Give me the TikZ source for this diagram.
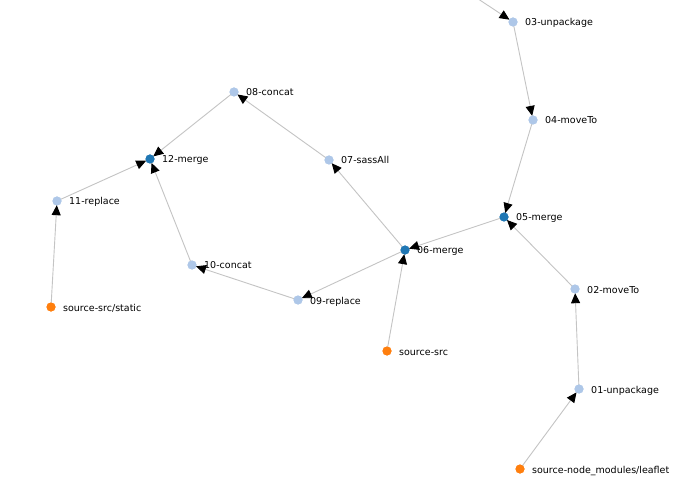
\documentclass[tikz,border=0pt]{standalone}
\usepackage{fontspec}
\setmainfont{DejaVu Sans}
\usetikzlibrary{arrows.meta}
\definecolor{lblue}{HTML}{AEC7E8}
\definecolor{dblue}{HTML}{1F77B4}
\definecolor{orng}{HTML}{FF7F0E}
\definecolor{edgec}{HTML}{C4C4C4}
\tikzset{
  dot/.style={circle, inner sep=0pt, minimum size=9bp, fill=#1},
  lbl/.style={anchor=base west, inner sep=0pt, font=\fontsize{9.5bp}{11bp}\selectfont},
  edge/.style={draw=edgec, line width=0.9bp, -{Triangle[length=10bp,width=9bp,color=black,fill=black]}, shorten >=-0.5bp}
}
\begin{document}
\begin{tikzpicture}[x=1bp,y=-1bp]
\useasboundingbox (0,0) rectangle (691,489);
\clip (0,0) rectangle (691,489);
\fill[white] (0,0) rectangle (691,489);
% nodes
\node[dot=lblue] (n03) at (513,22) {};
\node[dot=lblue] (n04) at (533,120) {};
\node[dot=dblue] (n05) at (504,217) {};
\node[dot=dblue] (n06) at (405,250) {};
\node[dot=lblue] (n07) at (329,160) {};
\node[dot=lblue] (n08) at (234,92) {};
\node[dot=dblue] (n12) at (150,159) {};
\node[dot=lblue] (n11) at (57,201) {};
\node[dot=orng] (sst) at (51,307) {};
\node[dot=lblue] (n10) at (192,265) {};
\node[dot=lblue] (n09) at (298,300) {};
\node[dot=orng] (ssrc) at (387,351) {};
\node[dot=lblue] (n02) at (575,289) {};
\node[dot=lblue] (n01) at (579,389) {};
\node[dot=orng] (sleaf) at (520,469) {};
\coordinate (off) at (451,-19);
% edges
\draw[edge] (off) -- (n03);
\draw[edge] (n03.center) -- (n04);
\draw[edge] (n04.center) -- (n05);
\draw[edge] (n02.center) -- (n05);
\draw[edge] (n01.center) -- (n02);
\draw[edge] (sleaf.center) -- (n01);
\draw[edge] (n05.center) -- (n06);
\draw[edge] (ssrc.center) -- (n06);
\draw[edge] (n06.center) -- (n07);
\draw[edge] (n07.center) -- (n08);
\draw[edge] (n08.center) -- (n12);
\draw[edge] (n11.center) -- (n12);
\draw[edge] (n10.center) -- (n12);
\draw[edge] (sst.center) -- (n11);
\draw[edge] (n06.center) -- (n09);
\draw[edge] (n09.center) -- (n10);
% redraw dots on top
\foreach \n/\c in {n03/lblue,n04/lblue,n05/dblue,n06/dblue,n07/lblue,n08/lblue,n12/dblue,n11/lblue,sst/orng,n10/lblue,n09/lblue,ssrc/orng,n02/lblue,n01/lblue,sleaf/orng}
  \fill[\c] (\n.center) circle (4.5bp);
% labels
\node[lbl] (l03) at ([xshift=12bp,yshift=-4bp]n03.center) {03-unpackage};
\node[lbl] (l04) at ([xshift=12bp,yshift=-4bp]n04.center) {04-moveTo};
\node[lbl] (l05) at ([xshift=12bp,yshift=-4bp]n05.center) {05-merge};
\node[lbl] (l06) at ([xshift=12bp,yshift=-4bp]n06.center) {06-merge};
\node[lbl] (l07) at ([xshift=12bp,yshift=-4bp]n07.center) {07-sassAll};
\node[lbl] (l08) at ([xshift=12bp,yshift=-4bp]n08.center) {08-concat};
\node[lbl] (l12) at ([xshift=12bp,yshift=-4bp]n12.center) {12-merge};
\node[lbl] (l11) at ([xshift=12bp,yshift=-4bp]n11.center) {11-replace};
\node[lbl] (lst) at ([xshift=12bp,yshift=-4bp]sst.center) {source-src/static};
\node[lbl] (l10) at ([xshift=12bp,yshift=-4bp]n10.center) {10-concat};
\node[lbl] (l09) at ([xshift=12bp,yshift=-4bp]n09.center) {09-replace};
\node[lbl] (lsrc) at ([xshift=12bp,yshift=-4bp]ssrc.center) {source-src};
\node[lbl] (l02) at ([xshift=12bp,yshift=-4bp]n02.center) {02-moveTo};
\node[lbl] (l01) at ([xshift=12bp,yshift=-4bp]n01.center) {01-unpackage};
\node[lbl] (lleaf) at ([xshift=12bp,yshift=-4bp]sleaf.center) {source-node\_modules/leaflet};
\end{tikzpicture}
\end{document}
